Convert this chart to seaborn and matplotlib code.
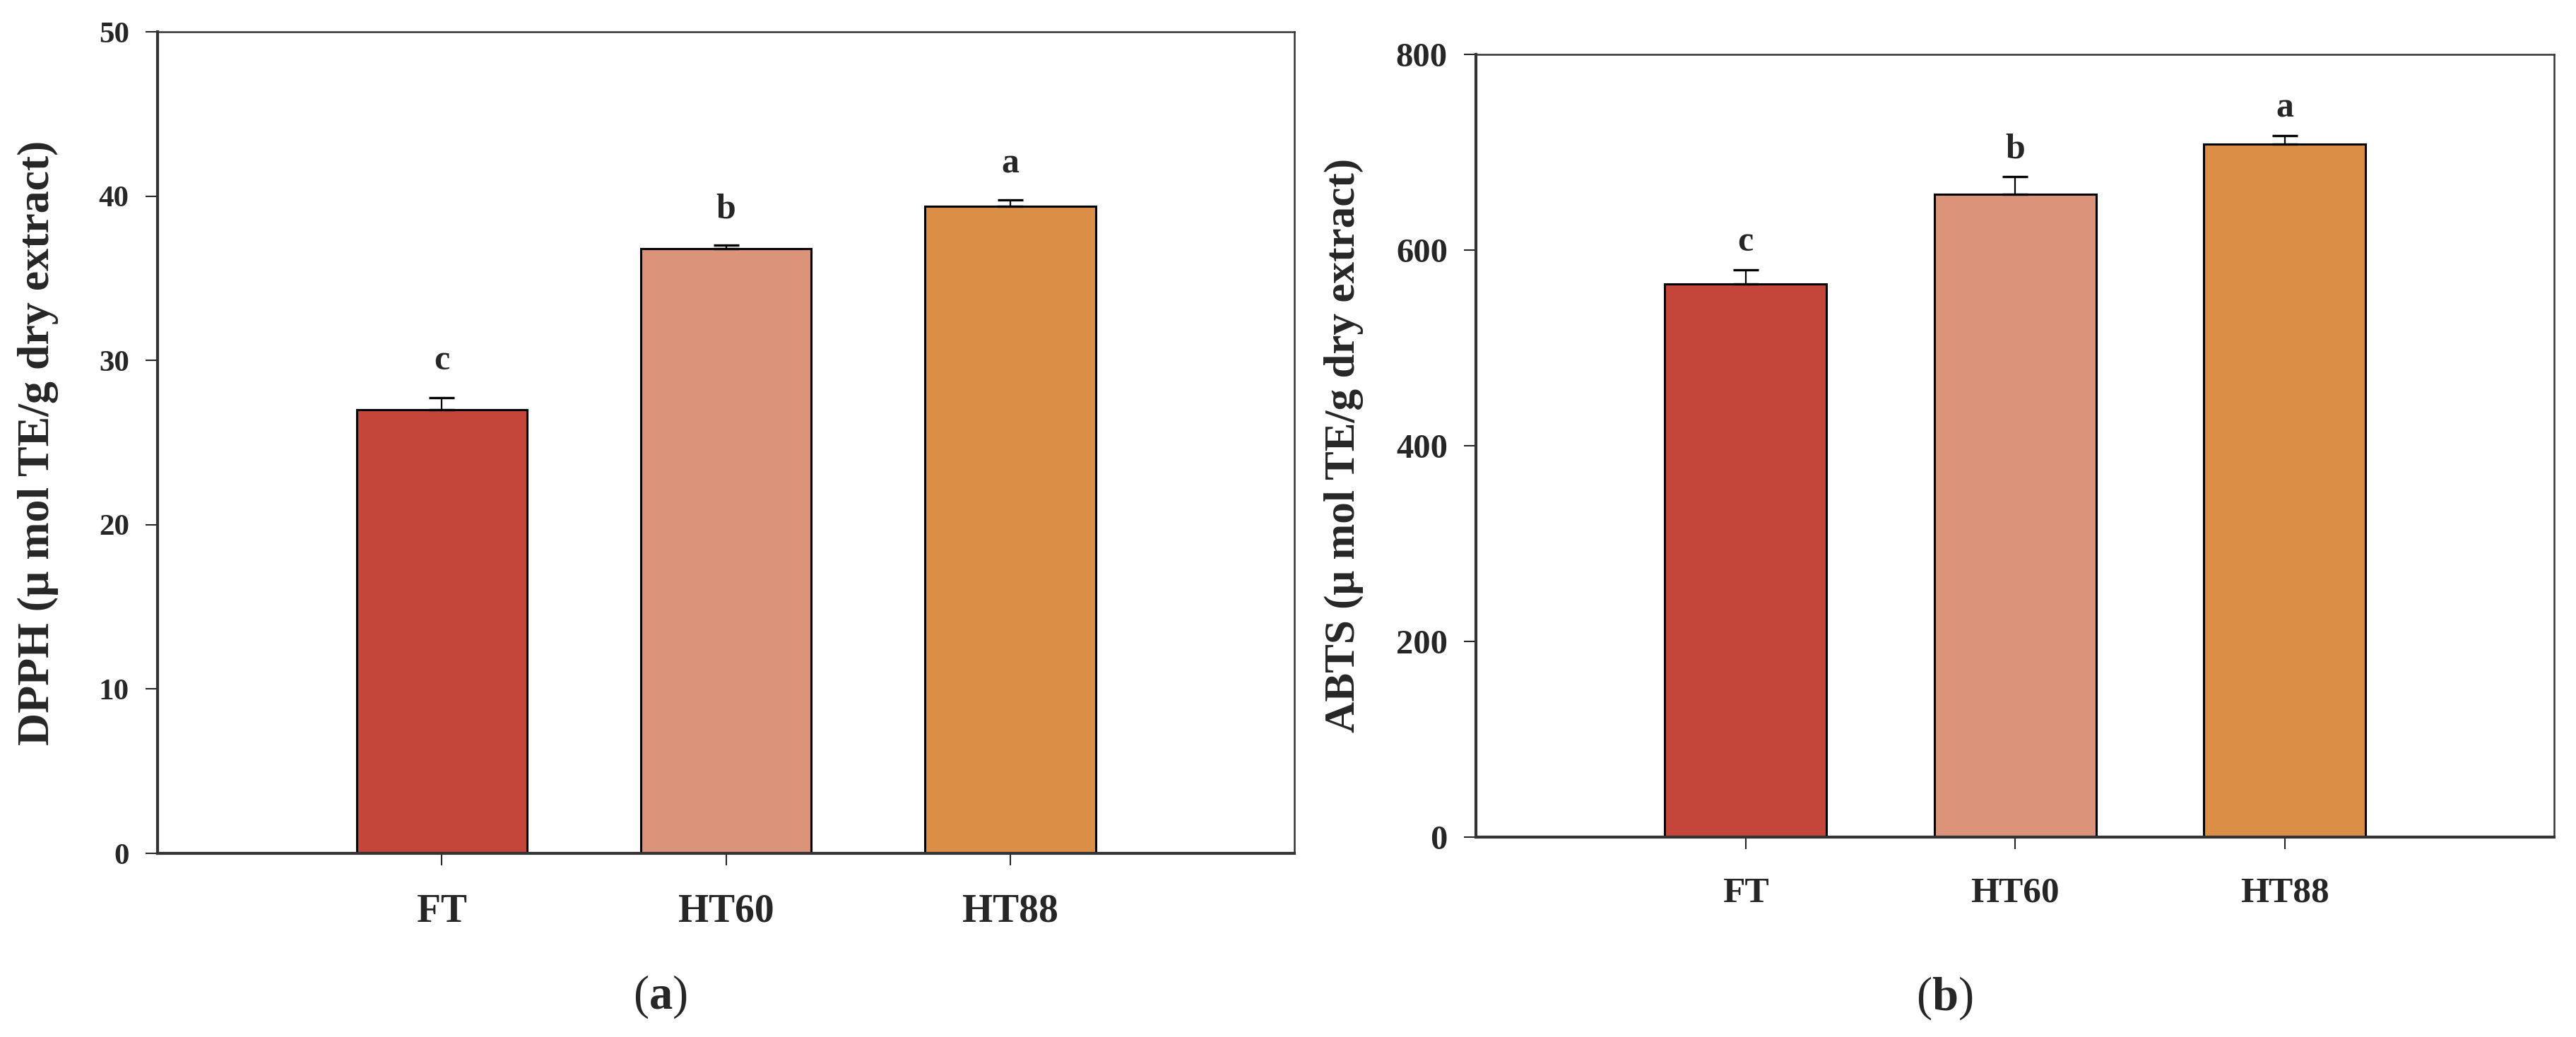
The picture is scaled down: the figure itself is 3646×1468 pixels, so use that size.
import numpy as np
import pandas as pd
import matplotlib
matplotlib.use('Agg')
from matplotlib import pyplot as plt
import seaborn as sns

# data
treatments = ['FT', 'HT60', 'HT88']
dpph_mean = [27.0, 36.8, 39.4]
dpph_sd = [0.75, 0.2, 0.35]
dpph_letters = ['c', 'b', 'a']
abts_mean = [565, 657, 708]
abts_sd = [15, 18, 9]
abts_letters = ['c', 'b', 'a']
bar_colors = ['#C4463A', '#DB937A', '#DB8F46']

sns.set_style('ticks')
plt.rcParams['font.family'] = ['Liberation Serif', 'DejaVu Serif']
plt.rcParams['mathtext.fontset'] = 'custom'
plt.rcParams['mathtext.rm'] = 'Liberation Serif'
plt.rcParams['mathtext.bf'] = 'Liberation Serif:bold'


def draw_panel(ax, means, sds, letters, ylabel, ymax, ystep, gap,
               ytick_fs, xtick_fs, ylab_fs, label_x):
    df = pd.DataFrame({'Treatment': treatments, 'Value': means, 'SD': sds})
    sns.barplot(data=df, x='Treatment', y='Value', hue='Treatment',
                palette=bar_colors, width=0.6, saturation=1,
                edgecolor='black', linewidth=2.2, errorbar=None,
                legend=False, ax=ax)
    xpos = np.arange(len(df))
    # one-sided error bars, like the original
    ax.errorbar(xpos, df['Value'], yerr=[np.zeros(len(df)), df['SD']],
                fmt='none', ecolor='black', elinewidth=1.6, capsize=13,
                capthick=2.4, zorder=5)
    for x, m, s, let in zip(xpos, df['Value'], df['SD'], letters):
        ax.text(x, m + s + gap, let, ha='center', va='center',
                fontsize=36, fontweight='bold')

    ax.set_xlim(-1, 3)
    ax.set_ylim(0, ymax)
    ax.set_yticks(np.arange(0, ymax + ystep / 2, ystep))
    ax.set_xlabel('')
    ax.set_ylabel(ylabel, fontsize=ylab_fs, fontweight='bold')
    ax.yaxis.set_label_coords(label_x, 0.5)
    ax.tick_params(axis='y', direction='out', length=12, width=1.5,
                   pad=17, labelsize=ytick_fs)
    ax.tick_params(axis='x', direction='out', length=12, width=1.5,
                   pad=29, labelsize=xtick_fs)
    for lab in ax.get_xticklabels() + ax.get_yticklabels():
        lab.set_fontweight('bold')
    for side in ['left', 'bottom']:
        ax.spines[side].set_linewidth(3.0)
        ax.spines[side].set_color('#333333')
    for side in ['top', 'right']:
        ax.spines[side].set_linewidth(1.8)
        ax.spines[side].set_color('#333333')


fig = plt.figure(figsize=(36.46, 14.68), dpi=100)
ax1 = fig.add_axes([0.0612, 0.1771, 0.4413, 0.7922])
ax2 = fig.add_axes([0.5730, 0.1928, 0.4185, 0.7548])

draw_panel(ax1, dpph_mean, dpph_sd, dpph_letters,
           'DPPH (\u03bc mol TE/g dry extract)', 50, 10, 2.2,
           31, 40, 46, -0.087)
draw_panel(ax2, abts_mean, abts_sd, abts_letters,
           'ABTS (\u03bc mol TE/g dry extract)', 800, 200, 28,
           35, 37, 44, -0.104)

fig.text(0.2564, 0.0388, r'($\mathbf{a}$)', ha='center', va='center', fontsize=48)
fig.text(0.7548, 0.0375, r'($\mathbf{b}$)', ha='center', va='center', fontsize=48)

fig.savefig('out.png', dpi=100, facecolor='white')
